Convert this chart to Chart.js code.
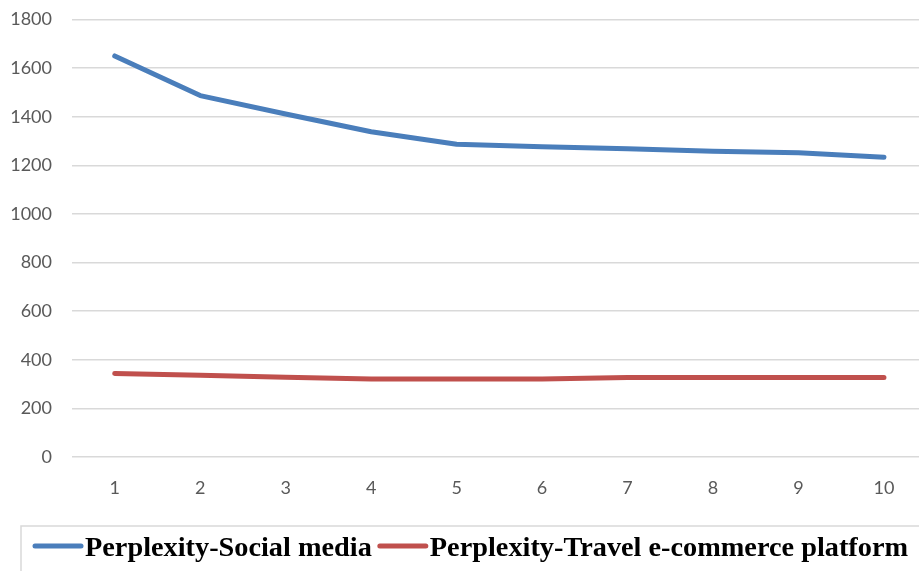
<!DOCTYPE html>
<html>
<head>
<meta charset="utf-8">
<script src="https://cdn.jsdelivr.net/npm/chart.js@4/dist/chart.umd.min.js"></script>
<style>
  html, body { margin: 0; padding: 0; background: #ffffff; overflow: hidden; }
  #wrap { width: 919px; height: 571px; position: relative; }
</style>
</head>
<body>
<div id="wrap"><canvas id="c" width="919" height="571"></canvas></div>
<script>
// Iterations on the x axis
const iterations = [1, 2, 3, 4, 5, 6, 7, 8, 9, 10];
// Perplexity per iteration for each corpus
const socialMedia = [1650, 1487, 1411, 1338, 1287, 1276, 1268, 1258, 1252, 1233];
const travelEcommerce = [344, 336, 328, 321, 321, 321, 327, 327, 327, 327];
// Series names shown in the legend
const seriesNames = ['Perplexity-Social media', 'Perplexity-Travel e-commerce platform'];
// Y axis range
const yMin = 0, yMax = 1800, yStep = 200;

const toPoints = (xs, ys) => xs.map((x, i) => ({ x: x, y: ys[i] }));

// Boxed legend along the bottom, drawn from the datasets' own labels and colours
const boxedLegend = {
  id: 'boxedLegend',
  afterDraw(chart) {
    const ctx = chart.ctx;
    ctx.save();
    ctx.strokeStyle = '#d9d9d9';
    ctx.lineWidth = 1.5;
    ctx.strokeRect(21, 526, 930, 80);
    ctx.font = 'bold 28.3px "Liberation Serif", "Times New Roman", serif';
    ctx.textBaseline = 'alphabetic';
    let x = 33;
    const yLine = 546;
    chart.data.datasets.forEach((ds) => {
      ctx.strokeStyle = ds.borderColor;
      ctx.lineWidth = 5;
      ctx.lineCap = 'round';
      ctx.beginPath();
      ctx.moveTo(x + 2, yLine);
      ctx.lineTo(x + 48, yLine);
      ctx.stroke();
      x += 52;
      ctx.fillStyle = '#000000';
      ctx.fillText(ds.label, x, 556);
      x += ctx.measureText(ds.label).width + 6;
    });
    ctx.restore();
  }
};

new Chart(document.getElementById('c'), {
  type: 'line',
  data: {
    datasets: [
      {
        label: seriesNames[0],
        data: toPoints(iterations, socialMedia),
        borderColor: '#4a7ebb',
        backgroundColor: '#4a7ebb',
        borderWidth: 5,
        borderCapStyle: 'round',
        borderJoinStyle: 'round',
        pointRadius: 0,
        tension: 0
      },
      {
        label: seriesNames[1],
        data: toPoints(iterations, travelEcommerce),
        borderColor: '#c0504d',
        backgroundColor: '#c0504d',
        borderWidth: 5,
        borderCapStyle: 'round',
        borderJoinStyle: 'round',
        pointRadius: 0,
        tension: 0
      }
    ]
  },
  options: {
    responsive: false,
    animation: false,
    layout: { padding: { top: 19.5, left: 0, right: 0, bottom: 0 } },
    plugins: {
      legend: { display: false },
      tooltip: { enabled: false }
    },
    scales: {
      x: {
        type: 'linear',
        min: 0.5,
        max: 10.41,
        afterFit: (scale) => { scale.height = 114; },
        grid: { display: false, drawTicks: false },
        border: { display: false },
        ticks: {
          stepSize: 1,
          includeBounds: false,
          padding: 20,
          color: '#595959',
          font: { family: 'Lato, "Open Sans", sans-serif', size: 18 },
          callback: (v) => (Number.isInteger(v) ? String(v) : '')
        }
      },
      y: {
        min: yMin,
        max: yMax,
        afterFit: (scale) => {
          scale.width = 72;
          scale.paddingTop = 10;
          scale.paddingBottom = 10;
        },
        grid: { color: '#d9d9d9', lineWidth: 1.5, drawTicks: false },
        border: { display: false },
        ticks: {
          stepSize: yStep,
          padding: 20,
          color: '#595959',
          font: { family: 'Lato, "Open Sans", sans-serif', size: 18 },
          callback: (v) => String(v)
        }
      }
    }
  },
  plugins: [boxedLegend]
});
</script>
</body>
</html>
